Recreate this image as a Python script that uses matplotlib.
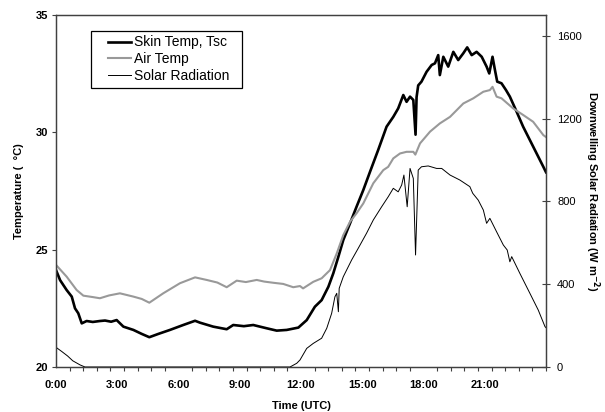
import numpy as np
import matplotlib
matplotlib.use("Agg")
from matplotlib import pyplot as plt
from matplotlib.patches import Rectangle

plt.rcParams['font.family'] = ['Liberation Sans', 'DejaVu Sans']

# skin temperature (hours UTC, deg C)
skin_hours = [0.0, 0.2, 0.52, 0.77, 0.93, 1.09, 1.26, 1.5, 1.8, 2.15, 2.4, 2.7, 2.97,
              3.3, 3.79, 4.2, 4.57, 5.01, 5.58, 6.23, 6.81, 7.05, 7.7, 8.36, 8.68,
              9.2, 9.66, 10.32, 10.81, 11.3, 11.87, 12.28, 12.68, 13.01, 13.34, 13.58,
              13.83, 14.07, 14.4, 14.72, 15.05, 15.38, 15.78, 16.19, 16.52, 16.76, 17.01,
              17.17, 17.34, 17.5, 17.61, 17.66, 17.74, 17.9, 18.15, 18.4, 18.56, 18.72,
              18.8, 18.97, 19.21, 19.46, 19.7, 19.95, 20.14, 20.36, 20.6, 20.85, 21.09,
              21.22, 21.38, 21.5, 21.61, 21.82, 22.04, 22.23, 22.56, 22.88, 23.21, 23.54,
              23.87, 24.0]
skin_temp = [24.13, 23.7, 23.28, 23.0, 22.5, 22.29, 21.86, 21.96, 21.92, 21.96, 21.98,
             21.93, 22.0, 21.72, 21.58, 21.41, 21.27, 21.41, 21.58, 21.79, 21.97, 21.89,
             21.72, 21.61, 21.79, 21.74, 21.79, 21.65, 21.55, 21.58, 21.68, 22.0, 22.57,
             22.85, 23.42, 23.99, 24.7, 25.41, 26.12, 26.83, 27.54, 28.32, 29.25, 30.24,
             30.66, 31.02, 31.59, 31.3, 31.52, 31.38, 29.9, 31.5, 32.0, 32.16, 32.58,
             32.87, 32.94, 33.29, 32.44, 33.22, 32.8, 33.43, 33.08, 33.37, 33.62, 33.29,
             33.43, 33.22, 32.8, 32.51, 33.22, 32.65, 32.16, 32.09, 31.8, 31.52, 30.88,
             30.24, 29.67, 29.1, 28.53, 28.3]

# air temperature (hours UTC, deg C)
air_hours = [0.0, 0.52, 1.01, 1.34, 1.8, 2.15, 2.6, 3.13, 3.79, 4.2, 4.57, 5.25, 6.07,
             6.81, 7.38, 7.9, 8.36, 8.85, 9.3, 9.83, 10.2, 10.64, 11.13, 11.62, 11.95,
             12.1, 12.6, 13.01, 13.42, 13.75, 14.07, 14.4, 14.72, 15.05, 15.54, 16.03,
             16.27, 16.52, 16.85, 17.17, 17.5, 17.6, 17.83, 18.32, 18.8, 19.3, 19.95,
             20.44, 20.93, 21.25, 21.38, 21.58, 21.82, 22.39, 22.88, 23.37, 23.87, 24.0]
air_temp = [24.35, 23.85, 23.28, 23.04, 22.98, 22.93, 23.05, 23.14, 23.0, 22.9, 22.74,
            23.14, 23.57, 23.82, 23.71, 23.6, 23.4, 23.68, 23.62, 23.71, 23.64, 23.59,
            23.54, 23.4, 23.45, 23.35, 23.63, 23.78, 24.13, 24.84, 25.62, 26.19, 26.55,
            26.97, 27.83, 28.39, 28.53, 28.89, 29.1, 29.17, 29.17, 29.05, 29.53, 30.03,
            30.38, 30.66, 31.23, 31.45, 31.73, 31.8, 31.94, 31.52, 31.45, 31.02, 30.74,
            30.45, 29.88, 29.8]

# downwelling solar radiation (hours UTC, W m-2)
solar_hours = [0.0, 0.28, 0.57, 0.82, 1.18, 1.42, 11.46, 11.79, 11.95, 12.28, 12.6, 13.01,
               13.26, 13.5, 13.66, 13.75, 13.83, 13.87, 14.07, 14.48, 14.8, 15.21, 15.54,
               15.95, 16.27, 16.52, 16.76, 16.93, 17.04, 17.2, 17.34, 17.5, 17.61, 17.74,
               17.9, 18.23, 18.64, 18.89, 19.3, 19.78, 20.27, 20.41, 20.68, 20.93, 21.09,
               21.25, 21.58, 21.91, 22.1, 22.23, 22.32, 22.72, 23.21, 23.62, 23.95, 24.0]
solar_rad = [95, 75, 53, 30, 10, 0, 0, 18, 34, 90, 114, 139, 187, 259, 339, 356, 267, 380,
             436, 517, 573, 646, 710, 774, 822, 863, 846, 879, 927, 774, 959, 911, 541, 951,
             967, 971, 959, 959, 927, 903, 871, 839, 806, 758, 694, 718, 653, 589, 565, 508,
             533, 452, 356, 275, 195, 190]

time_labels = ["0:00", "3:00", "6:00", "9:00", "12:00", "15:00", "18:00", "21:00"]

fig, ax = plt.subplots(figsize=(6.05, 4.12), dpi=100)
fig.subplots_adjust(left=0.0926, right=0.9025, top=0.9636, bottom=0.1092)
ax2 = ax.twinx()

l1, = ax.plot(skin_hours, skin_temp, color='black', linewidth=1.9, label="Skin Temp, Tsc")
l2, = ax.plot(air_hours, air_temp, color='#999999', linewidth=1.5, label="Air Temp")
l3, = ax2.plot(solar_hours, solar_rad, color='black', linewidth=0.7, label="Solar Radiation")

ax.set_xlim(0, 24)
ax.set_ylim(20, 35)
ax2.set_ylim(0, 1700)

ax.set_xticks(range(0, 24, 3))
ax.set_xticklabels(time_labels, fontweight='bold', fontsize=8)
ax.set_xticks(np.arange(0, 24.01, 2 / 3), minor=True)
ax.tick_params(axis='x', which='major', length=0, pad=9)
ax.tick_params(axis='x', which='minor', length=3, width=0.8, color='#404040')

ax.set_yticks([20, 25, 30, 35])
ax.set_yticklabels(["20", "25", "30", "35"], fontweight='bold', fontsize=8)
ax.tick_params(axis='y', length=3, width=0.8, pad=3, color='#404040')

ax2.set_yticks([0, 400, 800, 1200, 1600])
ax2.tick_params(axis='y', direction='inout', length=6, width=0.8, pad=5, labelsize=8, color='#404040')

for a in (ax, ax2):
    for s in a.spines.values():
        s.set_color('#404040')
        s.set_linewidth(0.9)

ax.set_xlabel("Time (UTC)", fontweight='bold', fontsize=8, labelpad=8)
ax.set_ylabel("Temperature (  \u00b0C)", fontweight='bold', fontsize=8, labelpad=8)
ax2.set_ylabel(r"Downwelling Solar Radiation (W m$^{\mathbf{-2}}$)", fontweight='bold',
               fontsize=8, rotation=270, labelpad=14)

# legend without its own frame, box drawn separately to match the wide padding
ax2.legend(handles=[l1, l2, l3], loc='upper left', bbox_to_anchor=(0.1, 0.95),
           borderaxespad=0, fontsize=10, frameon=False, labelspacing=0.2,
           handlelength=1.7, handletextpad=0.2, borderpad=0.2)
ax2.add_patch(Rectangle((0.0714, 0.7926), 0.3082, 0.1628, transform=ax2.transAxes,
                        fill=True, facecolor='white', edgecolor='black', linewidth=0.9,
                        zorder=4))

plt.savefig("out.png", dpi=100)
plt.close()
